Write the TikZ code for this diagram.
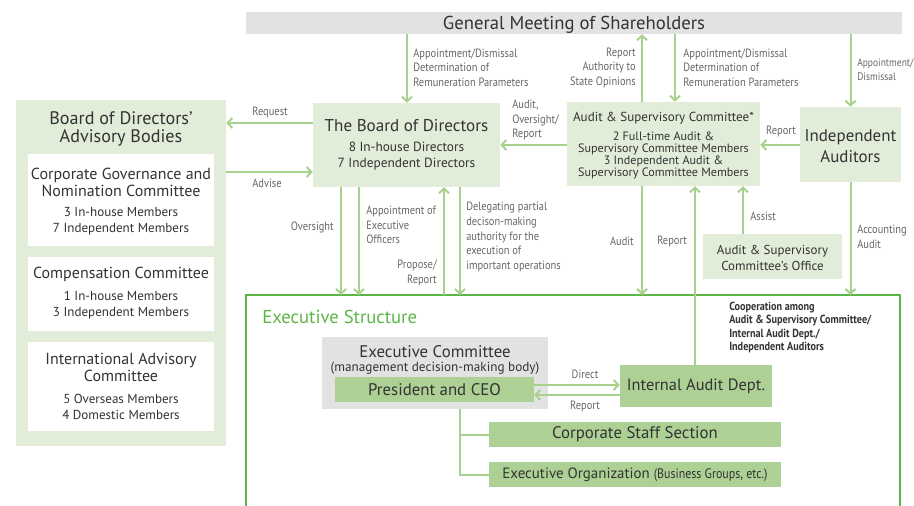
\documentclass[tikz,border=0pt]{standalone}
\usepackage{fontspec}
\setmainfont{PT Sans}
\newfontfamily\narrowfont[FakeStretch=0.87]{PT Sans}
\usepackage{tikz}
\usetikzlibrary{positioning}
\usetikzlibrary{arrows.meta}
\usepackage{xcolor}
\definecolor{arrowgreen}{HTML}{A9D18E}
\definecolor{palegreen}{HTML}{E2EDD9}
\definecolor{midgreen}{HTML}{ADD094}
\definecolor{framegreen}{HTML}{5DB548}
\definecolor{boxgray}{HTML}{E2E2E2}
\definecolor{textdark}{HTML}{333333}
\definecolor{textgray}{HTML}{666666}

\tikzset{
  box/.style={draw=none, inner sep=0pt},
  lbl/.style={inner sep=0pt, text=textgray, font=\narrowfont\fontsize{9}{10.9}\selectfont},
  txt/.style={inner sep=0pt, text=textdark, align=center}
}

\begin{document}
\begin{tikzpicture}[x=0.75pt,y=-0.75pt,
  >={Straight Barb[length=3.5pt,width=7.5pt]},
  arr/.style={draw=arrowgreen, line width=1.5pt, ->},
  link/.style={draw=arrowgreen, line width=1.5pt}]

\useasboundingbox (0,0) rectangle (914,506);

% columns and rows used by the connectors
\coordinate (c341) at (341,0);
\coordinate (c359) at (359,0);
\coordinate (c407) at (407,0);
\coordinate (c444) at (444,0);
\coordinate (c460) at (460,0);
\coordinate (c642) at (642,0);
\coordinate (c675) at (675,0);
\coordinate (c695) at (695,0);
\coordinate (c743) at (743,0);
\coordinate (r123) at (0,123);
\coordinate (r145) at (0,145);
\coordinate (r172) at (0,172);
\coordinate (r385) at (0,385);
\coordinate (r395) at (0,395);

%%% boxes
\node[box, fill=boxgray, minimum width=492pt, minimum height=16.5pt] (gm) at (574,23) {};
\node[txt, font=\fontsize{14}{15}\selectfont] (gmText) at (574,24.5) {General Meeting of Shareholders};

\begin{scope}
\node[box, fill=palegreen, minimum width=157.5pt, minimum height=259.5pt] (adv) at (121,273) {};
\node[txt, font=\fontsize{13.6}{13.5}\selectfont] (advTitle) at (121,129) {Board of Directors'\\Advisory Bodies};

\node[box, fill=white, minimum width=139.5pt, minimum height=69pt] (cgnc) at (121,200) {};
\node[txt, font=\fontsize{12}{12.75}\selectfont] (cgncTitle) at (121,182) {Corporate Governance and\\Nomination Committee};
\node[txt, font=\fontsize{9.8}{12}\selectfont] (cgncMembers) at (121,221.5) {3 In-house Members\\7 Independent Members};

\node[box, fill=white, minimum width=139.5pt, minimum height=55.5pt] (comp) at (121,294) {};
\node[txt, font=\fontsize{12}{12.75}\selectfont] (compTitle) at (121,274.5) {Compensation Committee};
\node[txt, font=\fontsize{9.8}{12}\selectfont] (compMembers) at (121,305.5) {1 In-house Members\\3 Independent Members};

\node[box, fill=white, minimum width=139.5pt, minimum height=66.75pt] (intl) at (121,386.5) {};
\node[txt, font=\fontsize{12}{12.75}\selectfont] (intlTitle) at (121,367.5) {International Advisory\\Committee};
\node[txt, font=\fontsize{9.8}{12}\selectfont] (intlMembers) at (121,406.5) {5 Overseas Members\\4 Domestic Members};
\end{scope}

\node[box, fill=palegreen, minimum width=140.25pt, minimum height=63pt] (board) at (406.5,145) {};
\node[txt, font=\fontsize{12.8}{14}\selectfont] (boardTitle) at (406.5,125.5) {The Board of Directors};
\node[txt, font=\fontsize{10}{12}\selectfont] (boardMembers) at (406.5,156.5) {8 In-house Directors\\7 Independent Directors};

\node[box, fill=palegreen, minimum width=144.75pt, minimum height=63pt] (audit) at (663.5,144) {};
\node[txt, font=\fontsize{9.8}{12}\selectfont] (auditTitle) at (663.5,118.5) {Audit \& Supervisory Committee*};
\node[txt, font=\fontsize{9.1}{9}\selectfont] (auditMembers) at (663.5,155.5) {2 Full-time Audit \&\\Supervisory Committee Members\\3 Independent Audit \&\\Supervisory Committee Members};

\node[box, fill=palegreen, minimum width=75.75pt, minimum height=56.25pt] (ia) at (850.5,144.5) {};
\node[txt, font=\fontsize{12.7}{15.75}\selectfont] (iaText) at (850.5,146) {Independent\\Auditors};

\node[box, fill=palegreen, minimum width=104.25pt, minimum height=33.75pt] (office) at (772.5,256.5) {};
\node[txt, font=\fontsize{9.7}{12}\selectfont] (officeText) at (772.5,257.5) {Audit \& Supervisory\\Committee's Office};

%%% executive structure
\draw[framegreen, line width=1pt] (246,520) -- (246,295) coordinate (execTop) -- (900,295) -- (900,520);
\node[inner sep=0pt, anchor=west, text=framegreen, font=\fontsize{14}{15}\selectfont] (execTitle) at (262,316.5) {Executive Structure};

\node[box, fill=boxgray, minimum width=169.5pt, minimum height=54pt] (ecom) at (435,373) {};
\node[txt, font=\fontsize{12.6}{13}\selectfont] (ecomTitle) at (435,352) {Executive Committee};
\node[txt, font=\fontsize{9.9}{10}\selectfont] (ecomSub) at (435,368) {(management decision-making body)};
\node[box, fill=midgreen, minimum width=149.25pt, minimum height=18.75pt, text=textdark, font=\fontsize{12.6}{13}\selectfont] (ceo) at (434.5,389.5) {President and CEO};

\node[box, fill=midgreen, minimum width=114pt, minimum height=31.5pt, text=textdark, font=\fontsize{12.3}{14}\selectfont] (iad) at (696,386) {Internal Audit Dept.};

\node[box, fill=midgreen, minimum width=219pt, minimum height=18.75pt, text=textdark, font=\fontsize{12.6}{13}\selectfont] (css) at (635,434.5) {Corporate Staff Section};
\node[box, fill=midgreen, minimum width=219pt, minimum height=18.75pt, text=textdark, font=\fontsize{11.2}{13}\selectfont] (exo) at (635,474.5) {Executive Organization {\narrowfont\fontsize{10.3}{12}\selectfont(Business Groups, etc.)}};

\node[inner sep=0pt, anchor=north west, align=left, text=textdark, font=\narrowfont\bfseries\fontsize{8.8}{10}\selectfont] (coop) at (729,302) {Cooperation among\\Audit \& Supervisory Committee/\\Internal Audit Dept./\\Independent Auditors};

%%% connectors
\draw[arr] (c407 |- gm.south) -- (c407 |- board.north);
\draw[arr] (c642 |- audit.north) -- (c642 |- gm.south);
\draw[arr] (c675 |- gm.south) -- (c675 |- audit.north);
\draw[arr] (ia.north |- gm.south) -- (ia.north);

\draw[arr] (board.west |- r123) -- (adv.east |- r123);
\draw[arr] (adv.east |- r172) -- (board.west |- r172);
\draw[arr] (audit.west |- r145) -- (board.east |- r145);
\draw[arr] (ia.west |- r145) -- (audit.east |- r145);

\draw[arr] (c341 |- board.south) -- (c341 |- execTop);
\draw[arr] (c359 |- board.south) -- (c359 |- execTop);
\draw[arr] (c444 |- execTop) -- (c444 |- board.south);
\draw[arr] (c460 |- board.south) -- (c460 |- execTop);

\draw[arr] (c642 |- audit.south) -- (c642 |- execTop);
\draw[arr] (c695 |- iad.north) -- (c695 |- audit.south);
\draw[arr] (c743 |- office.north) -- (c743 |- audit.south);
\draw[arr] (ia.south) -- (ia.south |- execTop);

\draw[arr] (ceo.east |- r385) -- (iad.west |- r385);
\draw[arr] (iad.west |- r395) -- (ceo.east |- r395);

\draw[link] (c460 |- ecom.south) -- (c460 |- exo.west) -- (exo.west);
\draw[link] (c460 |- css.west) -- (css.west);

%%% connector labels
\node[lbl, right, align=left] (lblGmBoard) at (413,67.5) {Appointment/Dismissal\\Determination of\\Remuneration Parameters};
\node[lbl, left, align=right] (lblAuditGm) at (636,67.5) {Report\\Authority to\\State Opinions};
\node[lbl, right, align=left] (lblGmAudit) at (683,67.5) {Appointment/Dismissal\\Determination of\\Remuneration Parameters};
\node[lbl, right, align=left, font=\narrowfont\fontsize{8.2}{10.9}\selectfont] (lblGmIa) at (857,69.5) {Appointment/\\Dismissal};

\node[lbl] (lblRequest) at (270,112) {Request};
\node[lbl] (lblAdvise) at (267,183) {Advise};
\node[lbl, right, align=left] (lblAuditBoard) at (512,120) {Audit,\\Oversight/\\Report};
\node[lbl] (lblIaAudit) at (781,131) {Report};

\node[lbl, left] (lblOversight) at (334,227) {Oversight};
\node[lbl, right, align=left] (lblAppoint) at (366,225) {Appointment of\\Executive\\Officers};
\node[lbl, left, align=right] (lblPropose) at (437,273) {Propose/\\Report};
\node[lbl, right, align=left] (lblDelegate) at (466,237) {Delegating partial\\decison-making\\authority for the\\execution of\\important operations};

\node[lbl, left] (lblAudit) at (634,241) {Audit};
\node[lbl, right] (lblIadReport) at (657,241) {Report};
\node[lbl, right] (lblAssist) at (750,216) {Assist};
\node[lbl, right, align=left] (lblAccounting) at (857,237) {Accounting\\Audit};

\node[lbl] (lblDirect) at (585,374) {Direct};
\node[lbl] (lblReport) at (585,406) {Report};

\end{tikzpicture}
\end{document}
